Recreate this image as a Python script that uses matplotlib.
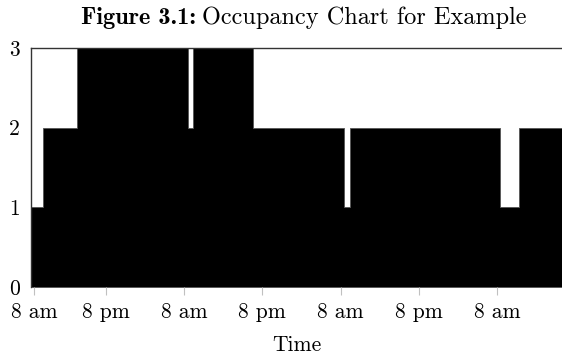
import numpy as np
import matplotlib
matplotlib.use("Agg")
from matplotlib import pyplot as plt

# occupancy level changes (hours from the first 8 am), post-step
change_hours = [0.56, 2.44, 7.56, 24.61, 25.42, 34.52, 48.56, 49.43, 72.46, 75.37, 81.91]
occupancy = [1, 2, 3, 2, 3, 2, 1, 2, 1, 2, 2]

tick_hours = [1.06, 12, 24, 36, 48, 60, 72]
tick_labels = ["8 am", "8 pm", "8 am", "8 pm", "8 am", "8 pm", "8 am"]
y_ticks = [0, 1, 2, 3]

plt.rcParams["font.family"] = "serif"
plt.rcParams["font.serif"] = ["cmr10"]
plt.rcParams["axes.formatter.use_mathtext"] = True

fig = plt.figure(figsize=(5.62, 3.55), dpi=100)
ax = fig.add_axes([31 / 562, 68 / 355, 531 / 562, 239 / 355])

ax.fill_between(change_hours, 0, occupancy, step="post",
                facecolor="black", edgecolor="#555555", linewidth=0.6)

ax.set_xlim(change_hours[0], change_hours[-1])
ax.set_ylim(0, 3)

ax.set_xticks(tick_hours)
ax.set_xticklabels(tick_labels, fontsize=15.5)
ax.set_yticks(y_ticks)
ax.set_yticklabels([str(v) for v in y_ticks], fontsize=15.5)
ax.tick_params(axis="x", direction="out", length=6, width=0.8, color="#c0c0c0", pad=5.5)
ax.tick_params(axis="y", length=0, pad=8)

for side in ["left", "top"]:
    ax.spines[side].set_color("#333333")
    ax.spines[side].set_linewidth(1.0)
ax.spines["right"].set_visible(False)
ax.spines["bottom"].set_visible(False)

ax.set_xlabel("Time", fontsize=15.5, labelpad=9)

fig.text(196 / 562, 1 - 18 / 355, "Figure 3.1:", fontsize=17.5, fontfamily="cmb10",
         ha="right", va="center")
fig.text(202 / 562, 1 - 18 / 355, "Occupancy Chart for Example", fontsize=17.5,
         ha="left", va="center")

fig.savefig("out.png", dpi=100)
